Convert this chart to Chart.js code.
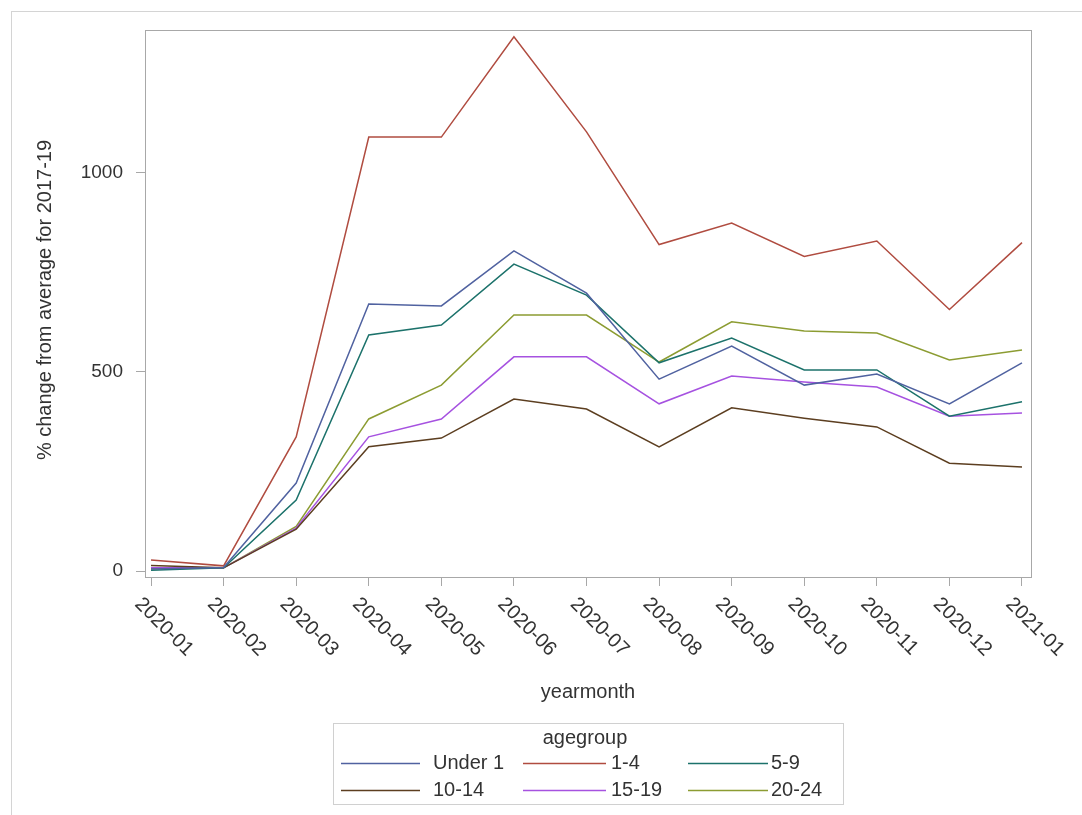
<!DOCTYPE html>
<html>
<head>
<meta charset="utf-8">
<script src="https://cdn.jsdelivr.net/npm/chart.js@4/dist/chart.umd.min.js"></script>
<style>
  html, body { margin: 0; padding: 0; background: #fff; }
  #wrap { position: relative; width: 1082px; height: 815px; }
</style>
</head>
<body>
<div id="wrap"><canvas id="chart" width="1082" height="815"></canvas></div>
<script>
// ---- data ----
var months = ["2020-01", "2020-02", "2020-03", "2020-04", "2020-05", "2020-06", "2020-07",
              "2020-08", "2020-09", "2020-10", "2020-11", "2020-12", "2021-01"];
var groups = ["Under 1", "1-4", "5-9", "10-14", "15-19", "20-24"];
var under1 = [5, 9, 221, 671, 666, 804, 698, 482, 565, 467, 495, 420, 523];
var age1to4 = [28, 13, 337, 1090, 1090, 1342, 1103, 820, 874, 790, 829, 657, 825];
var age5to9 = [2, 8, 178, 593, 618, 771, 693, 523, 585, 505, 505, 389, 425];
var age10to14 = [14, 8, 105, 312, 334, 432, 407, 312, 410, 384, 362, 271, 261];
var age15to19 = [8, 8, 108, 337, 382, 538, 538, 420, 490, 475, 462, 389, 397];
var age20to24 = [6, 8, 112, 382, 467, 643, 643, 525, 626, 603, 598, 530, 555];
var yTicks = [0, 500, 1000];
var lineColors = ["#5062a0", "#b04c40", "#1c726b", "#5c3e20", "#a652e0", "#8c9c32"];

var FONT = "'Liberation Sans', Arial, sans-serif";
var seriesValues = [under1, age1to4, age5to9, age10to14, age15to19, age20to24];

var datasets = groups.map(function(g, i) {
    return {
        label: g,
        data: seriesValues[i].map(function(v, j) { return { x: j, y: v }; }),
        borderColor: lineColors[i],
        backgroundColor: lineColors[i],
        borderWidth: 1.5,
        pointRadius: 0,
        tension: 0,
        fill: false
    };
});

// frame, titles, rotated month labels and the boxed legend
var decorPlugin = {
    id: "decor",
    afterDraw: function(chart) {
        var ctx = chart.ctx;
        var a = chart.chartArea;
        var xs = chart.scales.x;
        ctx.save();

        // outer light border
        ctx.strokeStyle = "#d4d4d4";
        ctx.lineWidth = 1;
        ctx.strokeRect(11.5, 11.5, 1200, 1000);

        // plot frame
        ctx.strokeStyle = "#a8a8a8";
        ctx.strokeRect(a.left + 0.5, a.top + 0.5, a.right - a.left, a.bottom - a.top);

        // rotated x labels
        ctx.fillStyle = "#333";
        ctx.font = "20px " + FONT;
        ctx.textAlign = "left";
        ctx.textBaseline = "middle";
        months.forEach(function(m, i) {
            var px = xs.getPixelForValue(i);
            ctx.save();
            ctx.translate(px - 13, 601);
            ctx.rotate(Math.PI / 4);
            ctx.fillText(m, 0, 0);
            ctx.restore();
        });

        // axis titles
        ctx.textAlign = "center";
        ctx.fillText("yearmonth", (a.left + a.right) / 2, 692);
        ctx.save();
        ctx.translate(45, 300);
        ctx.rotate(-Math.PI / 2);
        ctx.fillText("% change from average for 2017-19", 0, 0);
        ctx.restore();

        // legend box
        ctx.strokeStyle = "#d0d0d0";
        ctx.strokeRect(333.5, 723.5, 510, 81);
        ctx.fillText("agegroup", 585, 738);
        var cols = [{ l0: 341, l1: 420, t: 433 }, { l0: 523, l1: 606, t: 611 }, { l0: 688, l1: 768, t: 771 }];
        var rows = [763, 790];
        ctx.textAlign = "left";
        groups.forEach(function(g, i) {
            var c = cols[i % 3], y = rows[Math.floor(i / 3)];
            ctx.strokeStyle = lineColors[i];
            ctx.lineWidth = 1.5;
            ctx.beginPath();
            ctx.moveTo(c.l0, y + 0.5);
            ctx.lineTo(c.l1, y + 0.5);
            ctx.stroke();
            ctx.fillText(g, c.t, y);
        });
        ctx.restore();
    }
};

new Chart(document.getElementById("chart"), {
    type: "line",
    data: { datasets: datasets },
    plugins: [decorPlugin],
    options: {
        responsive: false,
        animation: false,
        layout: { padding: { left: 0, top: 30, right: 51, bottom: 0 } },
        plugins: { legend: { display: false }, tooltip: { enabled: false } },
        scales: {
            x: {
                type: "linear",
                min: -0.083,
                max: 12.124,
                afterBuildTicks: function(s) { s.ticks = months.map(function(m, i) { return { value: i }; }); },
                afterFit: function(s) { s.height = 238; },
                ticks: { callback: function() { return ""; } },
                grid: { drawOnChartArea: false, tickLength: 9, color: "#a8a8a8" },
                border: { color: "#a8a8a8" }
            },
            y: {
                min: -15,
                max: 1359,
                afterBuildTicks: function(s) { s.ticks = yTicks.map(function(v) { return { value: v }; }); },
                afterFit: function(s) { s.width = 145; },
                ticks: {
                    color: "#333",
                    font: { size: 19, family: FONT },
                    padding: 13,
                    callback: function(v) { return String(v); }
                },
                grid: { drawOnChartArea: false, tickLength: 9, color: "#a8a8a8" },
                border: { color: "#a8a8a8" }
            }
        }
    }
});
</script>
</body>
</html>
